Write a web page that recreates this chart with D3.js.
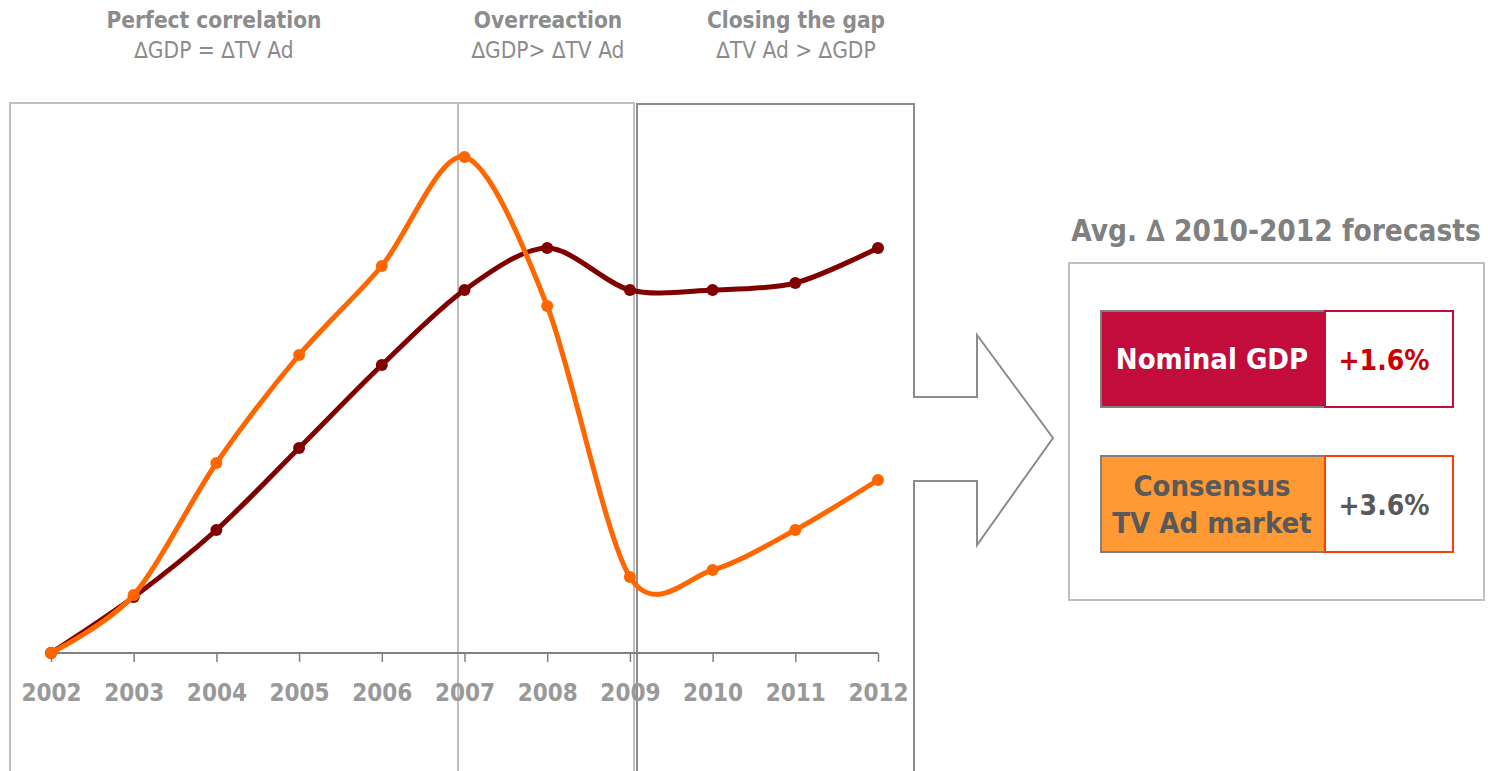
<!DOCTYPE html>
<html>
<head>
<meta charset="utf-8">
<script src="https://cdn.jsdelivr.net/npm/d3@7"></script>
<style>
  html, body { margin: 0; padding: 0; background: #fff; }
  svg { display: block; font-family: "DejaVu Sans Condensed", "DejaVu Sans", sans-serif; }
</style>
</head>
<body>
<div id="chart"></div>
<script>
// Données (indice, 2002 = 100)
const years = ["2002", "2003", "2004", "2005", "2006", "2007", "2008", "2009", "2010", "2011", "2012"];
const gdpIndex = [100, 105.6, 112.3, 120.5, 128.8, 136.3, 140.5, 136.3, 136.3, 137.0, 140.5];
const tvAdIndex = [100, 105.8, 119.0, 129.8, 138.7, 149.6, 134.7, 107.6, 108.3, 112.3, 117.3];

// Phases au-dessus du graphique
const phaseTitles = ["Perfect correlation", "Overreaction", "Closing the gap"];
const phaseRules = ["\u2206GDP = \u2206TV Ad", "\u2206GDP> \u2206TV Ad", "\u2206TV Ad > \u2206GDP"];

// Encadré des prévisions
const forecastTitle = "Avg. \u2206 2010-2012 forecasts";
const forecastNames = [["Nominal GDP"], ["Consensus", "TV Ad market"]];
const forecastValues = ["+1.6%", "+3.6%"];

const width = 1488;
const height = 771;

const svg = d3.select("#chart")
  .append("svg")
  .attr("width", width)
  .attr("height", height);

// Echelles
const x = d3.scalePoint()
  .domain(years)
  .range([51, 878]);

const y = d3.scaleLinear()
  .domain([100, 150])
  .range([653, 153]);

// Cadres des phases
const light = "#c0c0c0";
const dark = "#8c8c8c";

svg.append("path")
  .attr("d", `M10,${height} V103 H634 V${height}`)
  .attr("fill", "none")
  .attr("stroke", light)
  .attr("stroke-width", 2);

svg.append("line")
  .attr("x1", 458).attr("x2", 458)
  .attr("y1", 103).attr("y2", height)
  .attr("stroke", light)
  .attr("stroke-width", 2);

// Cadre "Closing the gap" prolongé en flèche
svg.append("path")
  .attr("d", `M637,${height} V104 H914 V397 H977 V335 L1053,438 L977,545 V481 H914 V${height}`)
  .attr("fill", "none")
  .attr("stroke", dark)
  .attr("stroke-width", 2);

// Titres des phases
const phaseCenters = [214, 548, 796];
const phases = svg.append("g")
  .attr("fill", "#8c8c8c")
  .attr("text-anchor", "middle");

phases.selectAll("text.title")
  .data(phaseTitles)
  .enter()
  .append("text")
  .attr("class", "title")
  .attr("x", (d, i) => phaseCenters[i])
  .attr("y", 28)
  .attr("font-size", 22.5)
  .attr("font-weight", "bold")
  .text(d => d);

phases.selectAll("text.rule")
  .data(phaseRules)
  .enter()
  .append("text")
  .attr("class", "rule")
  .attr("x", (d, i) => phaseCenters[i])
  .attr("y", 58)
  .attr("font-size", 22.5)
  .text(d => d);

// Axe des x
const xAxis = svg.append("g")
  .attr("transform", "translate(0,653)")
  .call(d3.axisBottom(x).tickSize(9).tickPadding(22).tickSizeOuter(0));

xAxis.select(".domain")
  .attr("d", "M45,0H878")
  .attr("stroke", "#808080")
  .attr("stroke-width", 2);

xAxis.selectAll(".tick line")
  .attr("stroke", "#808080")
  .attr("stroke-width", 1.5);

xAxis.selectAll(".tick text")
  .attr("fill", "#999999")
  .attr("font-size", 24)
  .attr("font-weight", "bold")
  .attr("font-family", "'DejaVu Sans Condensed', 'DejaVu Sans', sans-serif");

// Courbes lissées (PIB dessous, TV par-dessus)
const series = [
  { name: "gdp", values: gdpIndex, color: "#800000" },
  { name: "tv", values: tvAdIndex, color: "#ff6600" }
];

const line = d3.line()
  .x((d, i) => x(years[i]))
  .y(d => y(d))
  .curve(d3.curveCardinal.tension(0.1));

series.forEach(s => {
  svg.append("path")
    .datum(s.values)
    .attr("d", line)
    .attr("fill", "none")
    .attr("stroke", s.color)
    .attr("stroke-width", 5)
    .attr("stroke-linejoin", "round");

  svg.selectAll("circle." + s.name)
    .data(s.values)
    .enter()
    .append("circle")
    .attr("class", s.name)
    .attr("cx", (d, i) => x(years[i]))
    .attr("cy", d => y(d))
    .attr("r", 6)
    .attr("fill", s.color);
});

// Encadré des prévisions
svg.append("text")
  .attr("x", 1276)
  .attr("y", 241)
  .attr("text-anchor", "middle")
  .attr("fill", "#808080")
  .attr("font-size", 29.5)
  .attr("font-weight", "bold")
  .text(forecastTitle);

svg.append("rect")
  .attr("x", 1069).attr("y", 263)
  .attr("width", 415).attr("height", 337)
  .attr("fill", "none")
  .attr("stroke", light)
  .attr("stroke-width", 2);

const boxStyles = [
  { fill: "#c20c3c", text: "#ffffff", valueColor: "#cc0000", edge: "#c20c3c", top: 311 },
  { fill: "#ff9933", text: "#595959", valueColor: "#595959", edge: "#ff4000", top: 456 }
];

forecastNames.forEach((lines, i) => {
  const st = boxStyles[i];
  const g = svg.append("g");

  g.append("rect")
    .attr("x", 1101).attr("y", st.top)
    .attr("width", 224).attr("height", 96)
    .attr("fill", st.fill)
    .attr("stroke", "#808080")
    .attr("stroke-width", 2);

  g.append("rect")
    .attr("x", 1325).attr("y", st.top)
    .attr("width", 128).attr("height", 96)
    .attr("fill", "#ffffff")
    .attr("stroke", st.edge)
    .attr("stroke-width", 2);

  const lineH = 37;
  const firstY = st.top + 48 - (lines.length - 1) * lineH / 2 + 10;
  g.selectAll("text.name")
    .data(lines)
    .enter()
    .append("text")
    .attr("class", "name")
    .attr("x", 1212)
    .attr("y", (d, j) => firstY + j * lineH)
    .attr("text-anchor", "middle")
    .attr("fill", st.text)
    .attr("font-size", 29)
    .attr("font-weight", "bold")
    .text(d => d);

  g.append("text")
    .attr("x", 1384)
    .attr("y", st.top + 59)
    .attr("text-anchor", "middle")
    .attr("fill", st.valueColor)
    .attr("font-size", 28)
    .attr("font-weight", "bold")
    .text(forecastValues[i]);
});
</script>
</body>
</html>
